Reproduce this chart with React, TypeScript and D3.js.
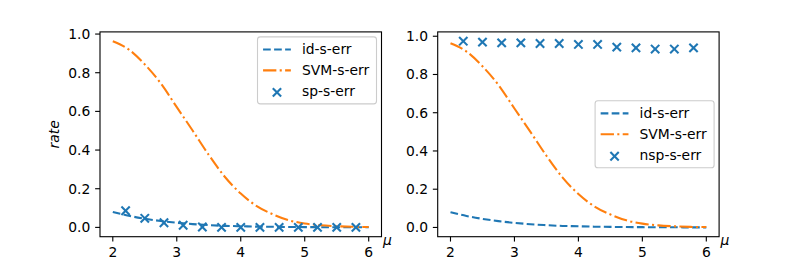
import React from 'react';
import * as d3 from 'd3';

const muGrid = [2.0, 2.25, 2.5, 2.75, 3.0, 3.25, 3.5, 3.75, 4.0, 4.25, 4.5, 4.75, 5.0, 5.25, 5.5, 5.75, 6.0];
const svmErr = [0.963, 0.92, 0.843, 0.745, 0.622, 0.5, 0.375, 0.262, 0.175, 0.11, 0.068, 0.037, 0.02, 0.011, 0.006, 0.003, 0.002];
const idErr = [0.08, 0.06, 0.045, 0.033, 0.024, 0.017, 0.012, 0.008, 0.006, 0.004, 0.003, 0.002, 0.0015, 0.001, 0.0007, 0.0005, 0.0003];
const muSamples = [2.2, 2.5, 2.8, 3.1, 3.4, 3.7, 4.0, 4.3, 4.6, 4.9, 5.2, 5.5, 5.8];
const spErr = [0.086, 0.047, 0.024, 0.011, 0.002, 0.0, 0.0, 0.0, 0.0, 0.0, 0.0, 0.0, 0.0];
const nspErr = [0.974, 0.969, 0.965, 0.965, 0.962, 0.962, 0.957, 0.957, 0.943, 0.939, 0.933, 0.933, 0.939];
const xTicks = [2, 3, 4, 5, 6];
const yTicks = [0.0, 0.2, 0.4, 0.6, 0.8, 1.0];

const W = 799;
const H = 266;
const FS = 13.89;
const LW = 2.08;
const BLUE = '#1f77b4';
const ORANGE = '#ff7f0e';
const DASH = '7.7,3.33';
const DASHDOT = '13.3,3.33,2.08,3.33';
const FONT = 'DejaVu Sans';

type PanelProps = {
  x0: number;
  x1: number;
  scatterVals: number[];
  scatterLabel: string;
  legendLoc: 'upper right' | 'center right';
  showYLabel: boolean;
};

function Panel({ x0, x1, scatterVals, scatterLabel, legendLoc, showYLabel }: PanelProps) {
  const y0 = 31.9;
  const y1 = 236.7;
  const xExt = d3.extent([...muGrid, ...muSamples]) as [number, number];
  const xPad = (xExt[1] - xExt[0]) * 0.05;
  const x = d3.scaleLinear().domain([xExt[0] - xPad, xExt[1] + xPad]).range([x0, x1]);
  const yExt = d3.extent([...svmErr, ...idErr, ...scatterVals]) as [number, number];
  const yPad = (yExt[1] - yExt[0]) * 0.05;
  const y = d3.scaleLinear().domain([yExt[0] - yPad, yExt[1] + yPad]).range([y1, y0]);

  const line = d3
    .line<number>()
    .x((_, i) => x(muGrid[i]))
    .y((d) => y(d))
    .curve(d3.curveMonotoneX);

  const ms = 4.17;
  const xMarker = (cx: number, cy: number, key: string | number) => (
    <g key={key} stroke={BLUE} strokeWidth={LW}>
      <line x1={cx - ms} y1={cy - ms} x2={cx + ms} y2={cy + ms} />
      <line x1={cx - ms} y1={cy + ms} x2={cx + ms} y2={cy - ms} />
    </g>
  );

  // legend geometry
  const legW = 119;
  const legH = 67;
  const legRight = x1 - 5;
  const legTop = legendLoc === 'upper right' ? y0 + 5 : (y0 + y1) / 2 - legH / 2;
  const legLeft = legRight - legW;
  const rowH = 14;
  const rowGap = 6.94;
  const bp = 5.56;
  const hx0 = legLeft + bp;
  const hx1 = hx0 + 27.8;
  const tx = hx1 + 11.1;
  const rows = [
    { label: 'id-s-err', kind: 'dash' },
    { label: 'SVM-s-err', kind: 'dashdot' },
    { label: scatterLabel, kind: 'x' },
  ];

  return (
    <g>
      <path d={line(idErr) || ''} fill="none" stroke={BLUE} strokeWidth={LW} strokeDasharray={DASH} />
      <path d={line(svmErr) || ''} fill="none" stroke={ORANGE} strokeWidth={LW} strokeDasharray={DASHDOT} />
      {scatterVals.map((v, i) => xMarker(x(muSamples[i]), y(v), i))}

      <rect x={x0} y={y0} width={x1 - x0} height={y1 - y0} fill="none" stroke="#000" strokeWidth={1.11} />

      {xTicks.map((t) => (
        <g key={'xt' + t}>
          <line x1={x(t)} x2={x(t)} y1={y1} y2={y1 + 4.86} stroke="#000" strokeWidth={1.11} />
          <text x={x(t)} y={257} textAnchor="middle" fontFamily={FONT} fontSize={FS} fill="#000">
            {t}
          </text>
        </g>
      ))}
      {yTicks.map((t) => (
        <g key={'yt' + t}>
          <line x1={x0 - 4.86} x2={x0} y1={y(t)} y2={y(t)} stroke="#000" strokeWidth={1.11} />
          <text x={x0 - 9.72} y={y(t) + 5} textAnchor="end" fontFamily={FONT} fontSize={FS} fill="#000">
            {t.toFixed(1)}
          </text>
        </g>
      ))}

      <text x={x1 + 1.5} y={244.5} fontFamily={FONT} fontStyle="italic" fontSize={FS} fill="#000">
        μ
      </text>
      {showYLabel && (
        <text
          transform={`translate(${x0 - 45} ${(y0 + y1) / 2}) rotate(-90)`}
          textAnchor="middle"
          dy="0.3em"
          fontFamily={FONT}
          fontStyle="italic"
          fontSize={FS}
          fill="#000"
        >
          rate
        </text>
      )}

      <rect
        x={legLeft}
        y={legTop}
        width={legW}
        height={legH}
        rx={2.8}
        fill="#fff"
        fillOpacity={0.8}
        stroke="#cccccc"
        strokeWidth={1.1}
      />
      {rows.map((r, i) => {
        const cy = legTop + bp + i * (rowH + rowGap) + rowH / 2;
        return (
          <g key={r.label}>
            {r.kind === 'dash' && (
              <line x1={hx0} x2={hx1} y1={cy} y2={cy} stroke={BLUE} strokeWidth={LW} strokeDasharray={DASH} />
            )}
            {r.kind === 'dashdot' && (
              <line x1={hx0} x2={hx1} y1={cy} y2={cy} stroke={ORANGE} strokeWidth={LW} strokeDasharray={DASHDOT} />
            )}
            {r.kind === 'x' && xMarker((hx0 + hx1) / 2, cy + 1, 'lm')}
            <text x={tx} y={cy + 5} fontFamily={FONT} fontSize={FS} fill="#000">
              {r.label}
            </text>
          </g>
        );
      })}
    </g>
  );
}

export default function App() {
  return (
    <svg
      width={W}
      height={H}
      viewBox={`0 0 ${W} ${H}`}
      style={{ position: 'absolute', left: 0, top: 0, background: '#fff' }}
    >
      <rect x={0} y={0} width={W} height={H} fill="#fff" />
      <Panel x0={100} x1={381.5} scatterVals={spErr} scatterLabel="sp-s-err" legendLoc="upper right" showYLabel />
      <Panel x0={437.7} x1={719.1} scatterVals={nspErr} scatterLabel="nsp-s-err" legendLoc="center right" showYLabel={false} />
    </svg>
  );
}
